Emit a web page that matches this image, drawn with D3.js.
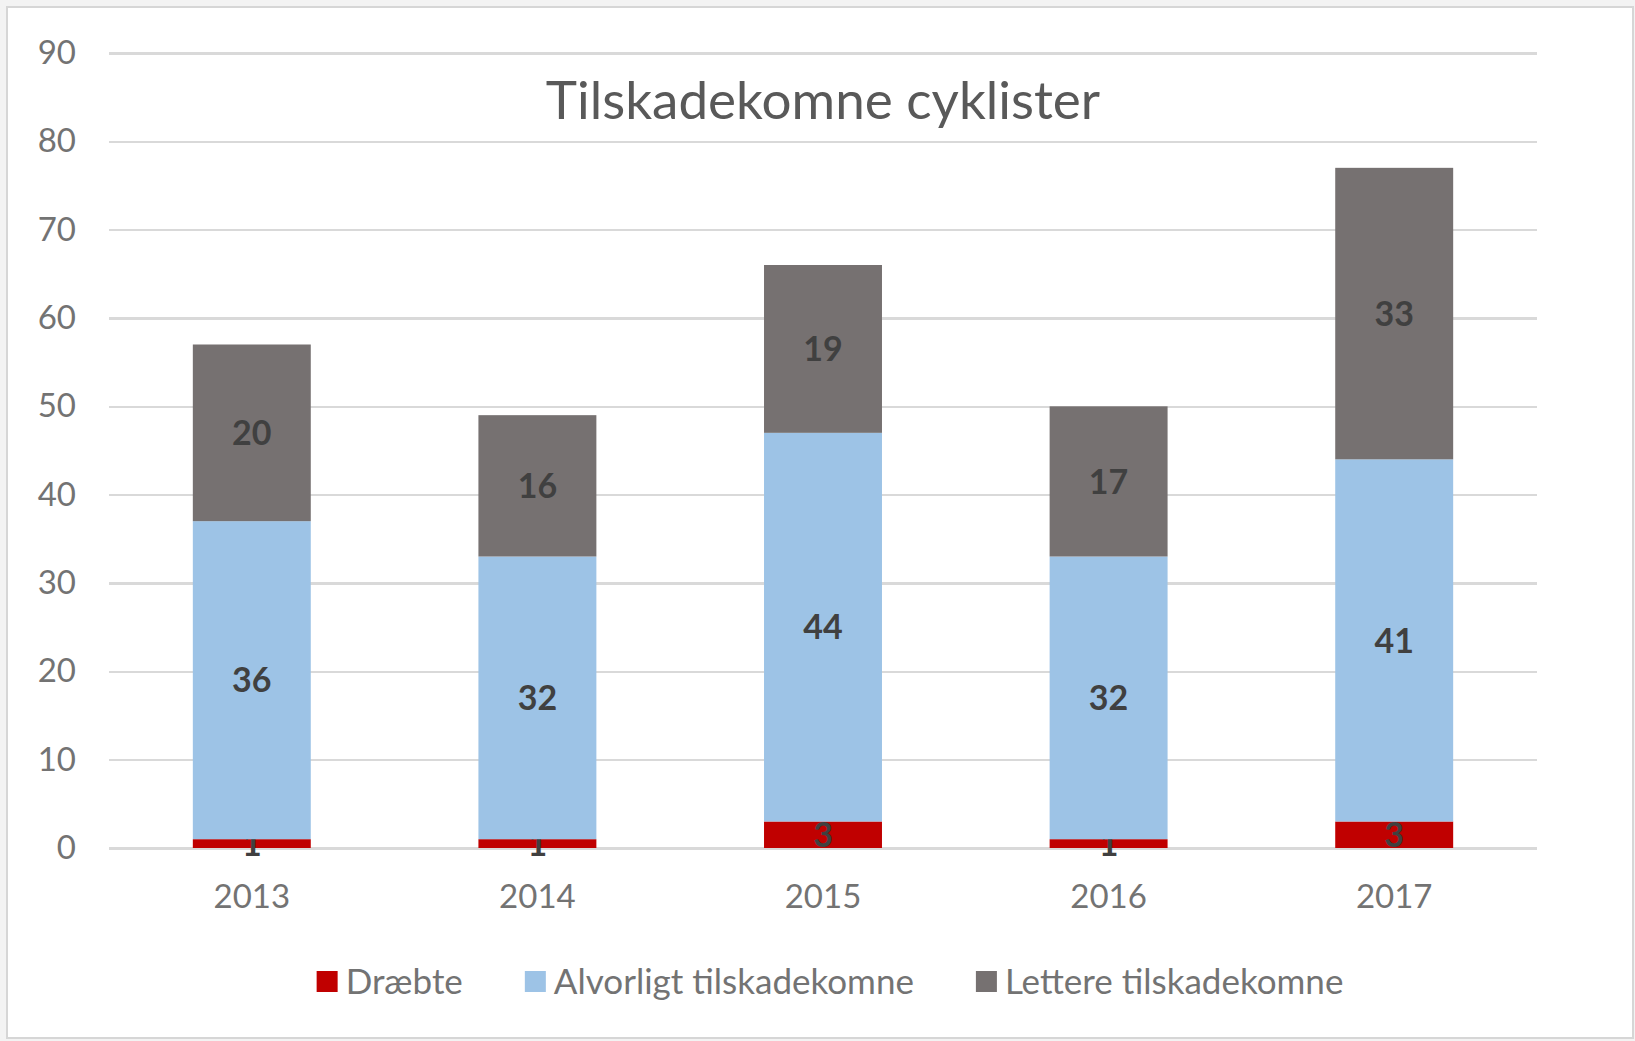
<!DOCTYPE html>
<html>
<head>
<meta charset="utf-8">
<title>Tilskadekomne cyklister</title>
<script src="https://cdn.jsdelivr.net/npm/d3@7"></script>
<style>
body{margin:0;background:#fff;}
svg{display:block;font-family:Lato,"Open Sans",sans-serif;}
.axis text{font-family:Lato,"Open Sans",sans-serif;font-size:33px;fill:#737373;}
.axis .domain{display:none;}
.grid line{stroke:#d9d9d9;stroke-width:2.5px;shape-rendering:crispEdges;}
.lbl{font-size:34px;font-weight:bold;fill:#404040;text-anchor:middle;}
</style>
</head>
<body>
<script>
// data
var years = ["2013", "2014", "2015", "2016", "2017"];
var draebte = [1, 1, 3, 1, 3];
var alvorligt = [36, 32, 44, 32, 41];
var lettere = [20, 16, 19, 17, 33];
var seriesNames = ["Dræbte", "Alvorligt tilskadekomne", "Lettere tilskadekomne"];
var colors = ["#c00000", "#9dc3e6", "#767171"];
var yTicks = [0, 10, 20, 30, 40, 50, 60, 70, 80, 90];
var title = "Tilskadekomne cyklister";

var width = 1635, height = 1041;
var plot = {left: 109, right: 1537, top: 53, bottom: 848};

var svg = d3.select("body").append("svg")
    .attr("width", width)
    .attr("height", height);

// background + frame
svg.append("rect").attr("width", width).attr("height", height).attr("fill", "#f3f3f3");
svg.append("rect")
    .attr("x", 7).attr("y", 7)
    .attr("width", 1626).attr("height", 1031)
    .attr("fill", "#fff")
    .attr("stroke", "#d6d6d6")
    .attr("stroke-width", 2);

var rows = years.map(function(y, i){
    return {year: y, 0: draebte[i], 1: alvorligt[i], 2: lettere[i]};
});
var stacked = d3.stack().keys([0, 1, 2])(rows);

var x = d3.scaleBand()
    .domain(years)
    .range([plot.left, plot.right])
    .paddingInner(0.587)
    .paddingOuter(0.587 / 2);

var y = d3.scaleLinear()
    .domain([0, 90])
    .range([plot.bottom, plot.top]);

// y axis with gridlines
svg.append("g")
    .attr("class", "axis grid")
    .attr("transform", "translate(" + plot.left + ",0)")
    .call(d3.axisLeft(y).tickValues(yTicks).tickSize(-(plot.right - plot.left)).tickPadding(33));

// x axis labels
svg.append("g")
    .attr("class", "axis")
    .attr("transform", "translate(0," + plot.bottom + ")")
    .call(d3.axisBottom(x).tickSize(0).tickPadding(37));

// bars
var layers = svg.selectAll(".layer")
    .data(stacked)
    .enter().append("g")
    .attr("class", "layer")
    .attr("fill", function(d, i){ return colors[i]; });

layers.selectAll("rect")
    .data(function(d){ return d; })
    .enter().append("rect")
    .attr("x", function(d){ return x(d.data.year); })
    .attr("y", function(d){ return y(d[1]); })
    .attr("width", x.bandwidth())
    .attr("height", function(d){ return y(d[0]) - y(d[1]); });

// value labels
layers.selectAll("text")
    .data(function(d){ return d; })
    .enter().append("text")
    .attr("class", "lbl")
    .attr("x", function(d){ return x(d.data.year) + x.bandwidth() / 2; })
    .attr("y", function(d){ return y((d[0] + d[1]) / 2); })
    .attr("dy", "0.36em")
    .text(function(d){ return d[1] - d[0]; });

// title
svg.append("text")
    .attr("x", 823)
    .attr("y", 119)
    .attr("text-anchor", "middle")
    .style("font-size", "53px")
    .style("fill", "#595959")
    .text(title);

// legend
var legend = svg.append("g");
var lx = 0;
seriesNames.forEach(function(name, i){
    var item = legend.append("g").attr("transform", "translate(" + lx + ",0)");
    item.append("rect")
        .attr("x", 0).attr("y", -11)
        .attr("width", 21).attr("height", 21)
        .attr("fill", colors[i]);
    var t = item.append("text")
        .attr("x", 29)
        .attr("dy", "0.35em")
        .style("font-size", "35px")
        .style("fill", "#737373")
        .text(name);
    lx += 29 + t.node().getComputedTextLength() + 62;
});
lx -= 62;
legend.attr("transform", "translate(" + (830 - lx / 2) + ",982)");
</script>
</body>
</html>
